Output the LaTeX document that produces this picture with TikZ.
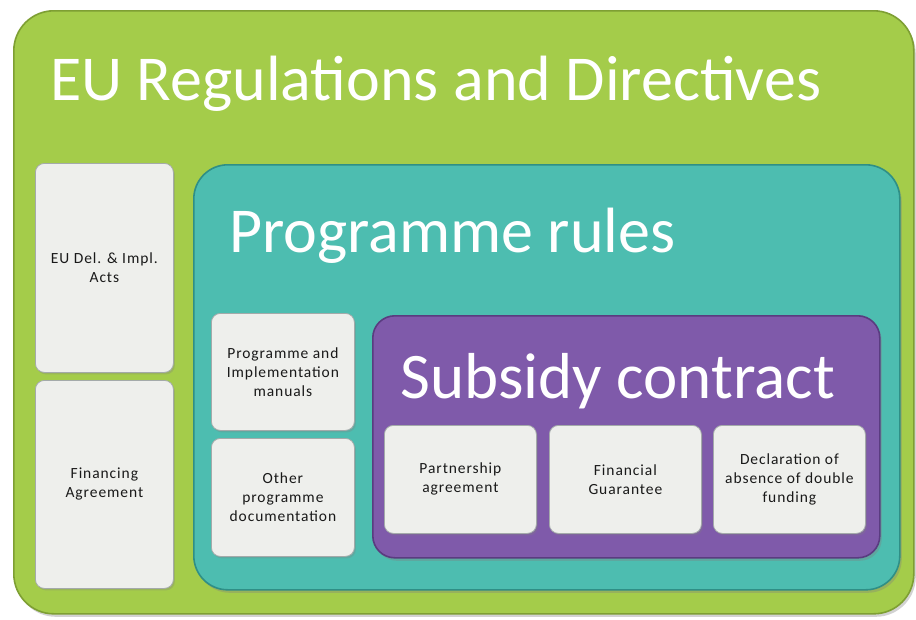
\documentclass[tikz,border=0pt]{standalone}
\usepackage{fontspec}
\setmainfont{Carlito}
\newfontfamily\cardfont{Carlito}[LetterSpace=6]
\usetikzlibrary{shadows}
\definecolor{grn}{HTML}{A4CC4A}
\definecolor{grnD}{HTML}{7E9F33}
\definecolor{tealc}{HTML}{4DBDB0}
\definecolor{tealD}{HTML}{2F8F86}
\definecolor{purp}{HTML}{7F5AAA}
\definecolor{purpD}{HTML}{5A3C80}
\definecolor{cardf}{HTML}{EEEFEC}
\definecolor{cardD}{HTML}{A4AAAA}
\begin{document}
\begin{tikzpicture}[x=1pt,y=-1pt,
  panel/.style={anchor=north west, inner sep=0pt, line width=1.6pt,
    drop shadow={shadow xshift=2pt, shadow yshift=-3pt, opacity=0.35}},
  card/.style={anchor=north west, inner sep=0pt, rounded corners=9pt,
    fill=cardf, draw=cardD, line width=0.8pt, align=center,
    text=black!90, font=\cardfont\fontsize{15.5}{19}\selectfont,
    drop shadow={shadow xshift=1.5pt, shadow yshift=-2pt, opacity=0.3}},
  bigtitle/.style={anchor=base west, inner sep=0pt, text=white,
    font=\fontsize{64}{64}\selectfont}]
\useasboundingbox (0,0) rectangle (916,619);
\fill[white] (0,0) rectangle (916,619);
% outer green panel
\node[panel, rounded corners=40pt, fill=grn, draw=grnD,
  minimum width=900pt, minimum height=603pt] (eu) at (13,10) {};
\node[bigtitle] (eut) at (50,100) {EU Regulations and Directives};
% left cards
\node[card, minimum width=138pt, minimum height=209pt] (acts) at (35,163)
  {EU Del. \& Impl.\\Acts};
\node[card, minimum width=138pt, minimum height=208pt] (fin) at (35,380)
  {Financing\\Agreement};
% teal panel
\node[panel, rounded corners=34pt, fill=tealc, draw=tealD,
  minimum width=706pt, minimum height=425pt] (prog) at (193,164) {};
\node[bigtitle] (progt) at (229,252) {Programme rules};
\node[card, minimum width=143pt, minimum height=117pt] (man) at (211,313)
  {Programme and\\Implementation\\manuals};
\node[card, minimum width=143pt, minimum height=118pt] (oth) at (211,438)
  {Other\\programme\\documentation};
% purple panel
\node[panel, rounded corners=22pt, fill=purp, draw=purpD,
  minimum width=507pt, minimum height=242pt] (sub) at (372,315) {};
\node[bigtitle, font=\fontsize{65}{65}\selectfont] (subt) at (400,398) {Subsidy contract};
\node[card, minimum width=152pt, minimum height=108pt] (part) at (384,425)
  {Partnership\\agreement};
\node[card, minimum width=152pt, minimum height=108pt] (guar) at (549,425)
  {Financial\\Guarantee};
\node[card, minimum width=152pt, minimum height=108pt] (decl) at (713,425)
  {Declaration of\\absence of double\\funding};
\end{tikzpicture}
\end{document}
